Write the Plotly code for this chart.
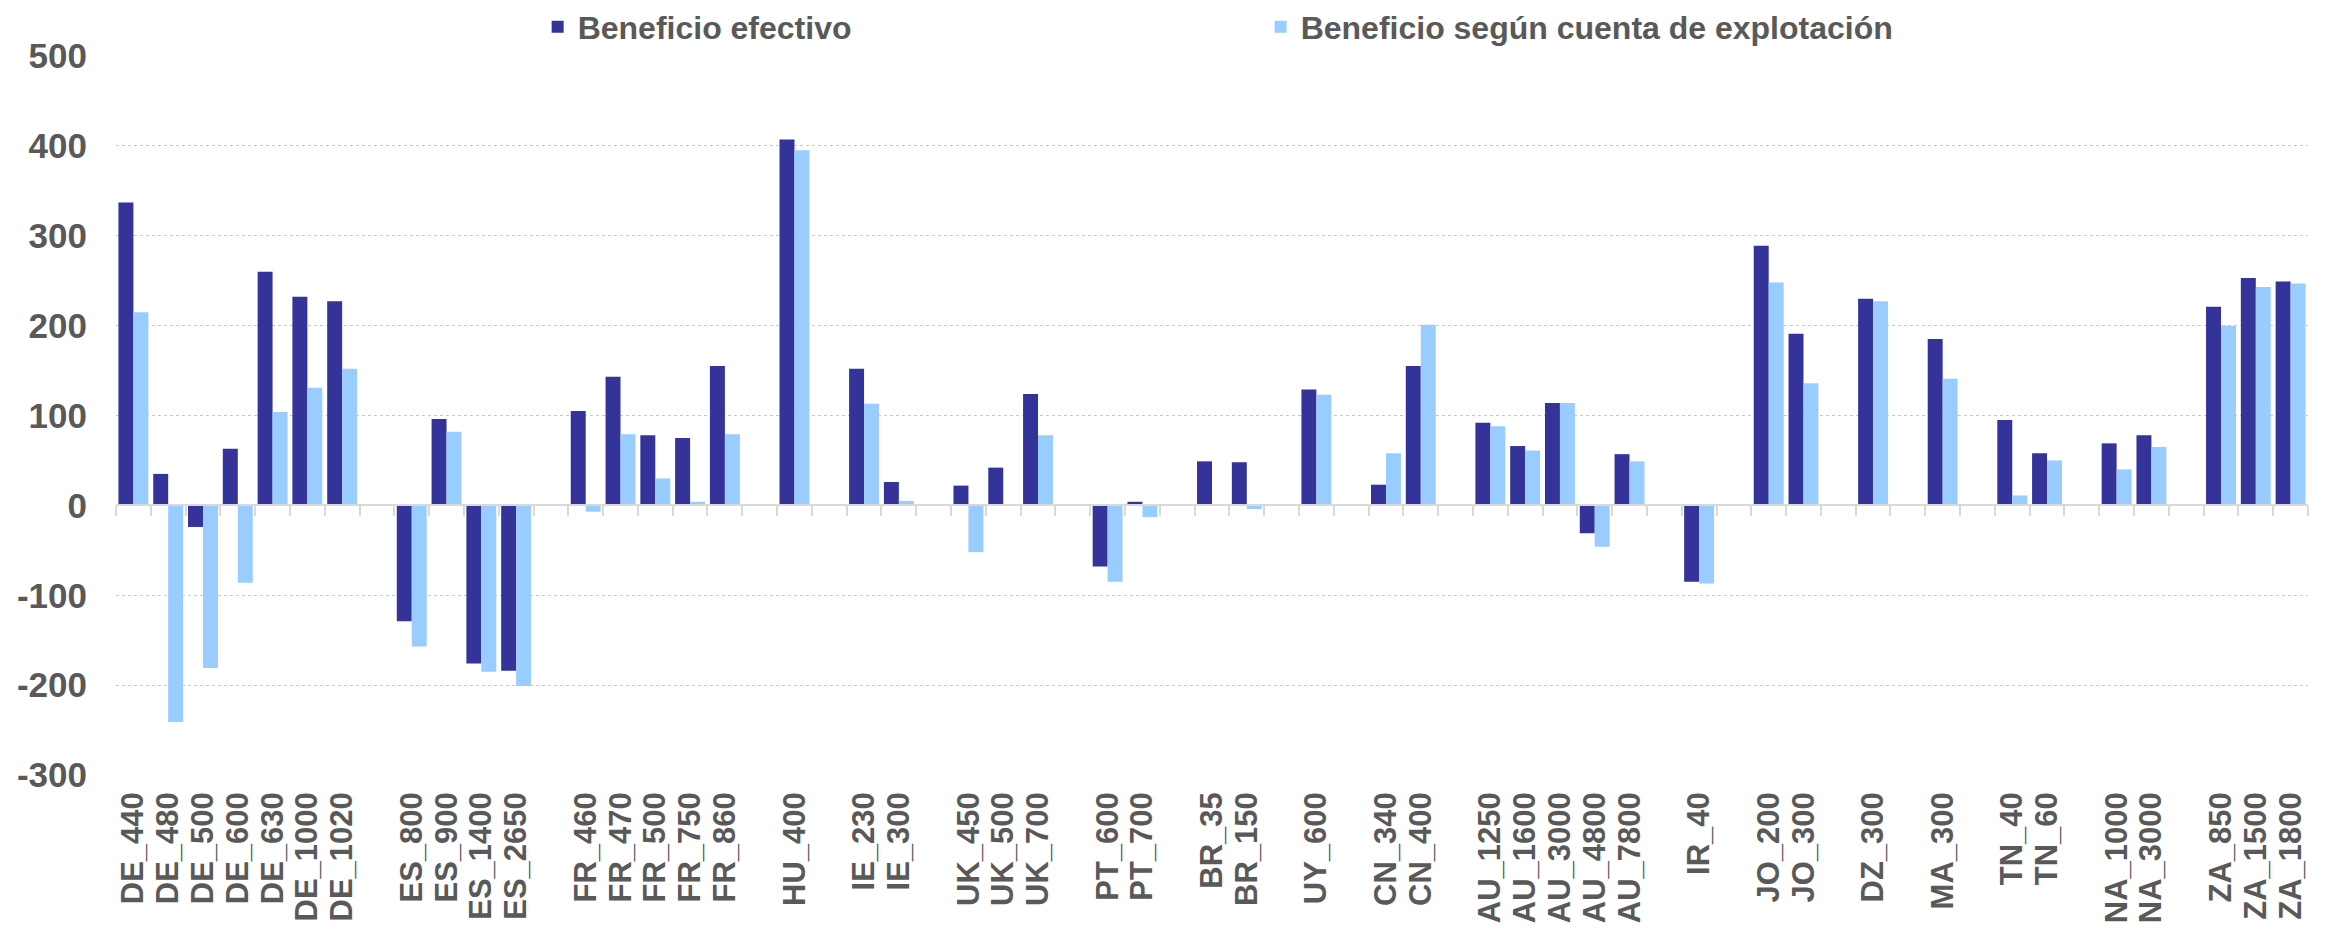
import plotly.graph_objects as go

# categories; empty strings are the blank separator slots between countries
labels = [
    "DE_440", "DE_480", "DE_500", "DE_600", "DE_630", "DE_1000", "DE_1020", "",
    "ES_800", "ES_900", "ES_1400", "ES_2650", "",
    "FR_460", "FR_470", "FR_500", "FR_750", "FR_860", "",
    "HU_400", "",
    "IE_230", "IE_300", "",
    "UK_450", "UK_500", "UK_700", "",
    "PT_600", "PT_700", "",
    "BR_35", "BR_150", "",
    "UY_600", "",
    "CN_340", "CN_400", "",
    "AU_1250", "AU_1600", "AU_3000", "AU_4800", "AU_7800", "",
    "IR_40", "",
    "JO_200", "JO_300", "",
    "DZ_300", "",
    "MA_300", "",
    "TN_40", "TN_60", "",
    "NA_1000", "NA_3000", "",
    "ZA_850", "ZA_1500", "ZA_1800",
]

beneficio_efectivo = [
    337, 35, -24, 63, 260, 232, 227, None,
    -129, 96, -176, -184, None,
    105, 143, 78, 75, 155, None,
    407, None,
    152, 26, None,
    22, 42, 124, None,
    -68, 4, None,
    49, 48, None,
    129, None,
    23, 155, None,
    92, 66, 114, -31, 57, None,
    -85, None,
    289, 191, None,
    230, None,
    185, None,
    95, 58, None,
    69, 78, None,
    221, 253, 249,
]

beneficio_cuenta = [
    215, -241, -181, -86, 104, 131, 152, None,
    -157, 82, -185, -201, None,
    -7, 79, 30, 4, 79, None,
    395, None,
    113, 5, None,
    -52, 1, 78, None,
    -85, -13, None,
    0.5, -4, None,
    123, None,
    58, 201, None,
    88, 61, 114, -46, 49, None,
    -87, None,
    248, 136, None,
    227, None,
    141, None,
    11, 50, None,
    40, 65, None,
    200, 243, 247,
]

y_ticks = [-300, -200, -100, 0, 100, 200, 300, 400, 500]
y_tick_text = ["-300", "-200", "-100", "0", "100", "200", "300", "400", "500"]

# blank slots need unique names on a category axis
cats = []
k = 0
for lab in labels:
    if lab == "":
        k += 1
        cats.append(" " * k)
    else:
        cats.append(lab)

FONT = "Liberation Sans, Arial, sans-serif"
GREY_TXT = "#595959"

fig = go.Figure()
fig.add_trace(go.Bar(x=cats, y=beneficio_efectivo, name="Beneficio efectivo",
                     marker=dict(color="#333399", line=dict(width=0))))
fig.add_trace(go.Bar(x=cats, y=beneficio_cuenta, name="Beneficio según cuenta de explotación",
                     marker=dict(color="#99CCFF", line=dict(width=0))))
# invisible trace so the tick-mark axis at y=0 knows the categories
fig.add_trace(go.Scatter(x=cats, y=[0] * len(cats), mode="none", xaxis="x2",
                         showlegend=False, hoverinfo="skip"))

n = len(cats)
# the html page adds an 8px body margin, so the figure is 8px smaller
fig.update_layout(
    width=2323, height=929,
    autosize=False,
    margin=dict(l=108, r=23, t=48, b=162, autoexpand=False),
    plot_bgcolor="white", paper_bgcolor="white",
    barmode="group", bargap=0.14, bargroupgap=0,
    font=dict(family=FONT, color=GREY_TXT),
    legend=dict(orientation="h", xref="container", yref="paper",
                x=0.228, xanchor="left", y=1.0403, yanchor="middle",
                font=dict(size=32, weight="bold", color=GREY_TXT),
                entrywidth=678, entrywidthmode="pixels",
                itemclick=False, bgcolor="rgba(0,0,0,0)"),
    xaxis=dict(type="category", categoryorder="array", categoryarray=cats,
               range=[-0.5, n - 0.5], showgrid=False, ticks="",
               tickmode="array", tickvals=cats, ticktext=labels,
               automargin=False,
               tickangle=-90, ticklabelstandoff=10,
               tickfont=dict(size=31, weight="bold", color=GREY_TXT, family=FONT)),
    xaxis2=dict(type="category", categoryorder="array", categoryarray=cats,
                range=[-0.5, n - 0.5], overlaying="x", anchor="free",
                position=0.375, side="bottom", showgrid=False,
                showticklabels=False, ticks="outside", tickson="boundaries",
                ticklen=10, tickwidth=1.5, tickcolor="#D9D9D9",
                showline=True, linecolor="#D9D9D9", linewidth=2,
                automargin=False),
    yaxis=dict(range=[-300, 500], tickmode="array", tickvals=y_ticks,
               ticktext=y_tick_text, automargin=False,
               showgrid=True, gridcolor="#C8C8C8", griddash="dot", gridwidth=1,
               zeroline=True, zerolinecolor="#D9D9D9", zerolinewidth=2,
               ticklabelstandoff=28,
               tickfont=dict(size=35, weight="bold", color=GREY_TXT, family=FONT)),
)

fig.write_html("out.html")
